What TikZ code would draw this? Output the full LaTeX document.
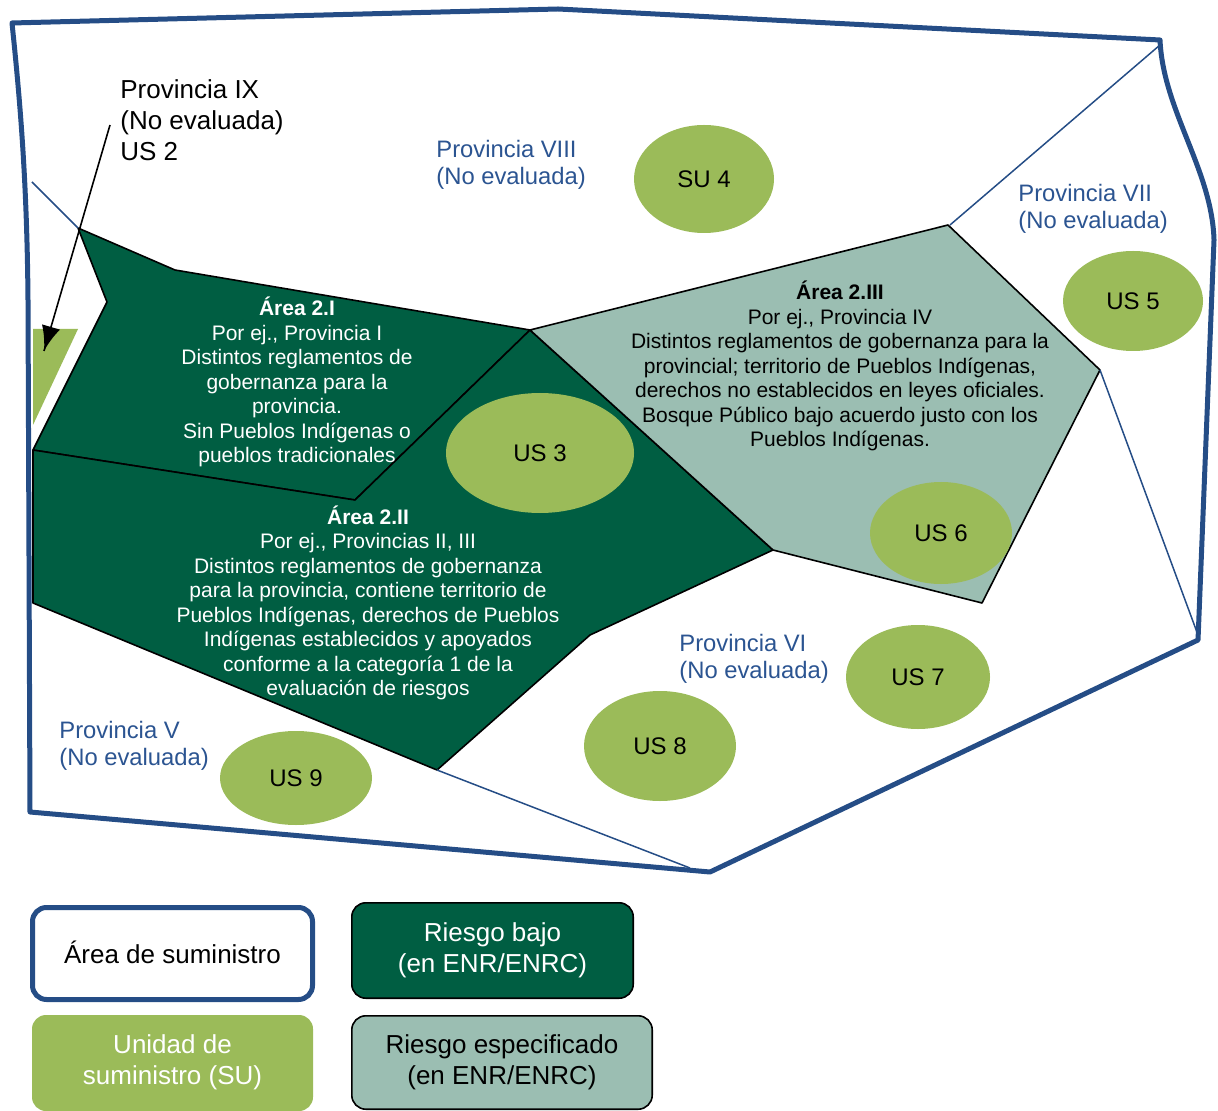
\documentclass[tikz,border=0pt]{standalone}
\usepackage{fontspec}
\setmainfont{Liberation Sans}
\usepackage{tikz}
\usetikzlibrary{shapes,arrows}
\usetikzlibrary{arrows,decorations.markings}
\definecolor{bosque}{RGB}{0,94,66}
\definecolor{verdeus}{RGB}{155,187,89}
\definecolor{gris}{RGB}{155,190,178}
\definecolor{azul}{RGB}{37,77,134}
\definecolor{azultxt}{RGB}{43,84,145}
\tikzstyle{pointer} = [decoration={markings,mark=at position 1 with
	{\arrow[scale=2.4,>=latex]{>}}},postaction={decorate}]
\tikzstyle{unidad} = [ellipse, fill=verdeus, inner sep=0pt, font=\fontsize{12}{14}\selectfont]
\tikzstyle{prov} = [anchor=west, align=left, inner sep=0pt, text=azultxt, font=\fontsize{11.9}{13.5}\selectfont]
\tikzstyle{areatxt} = [align=center, inner sep=0pt, font=\fontsize{10.5}{12.25}\selectfont]
\tikzstyle{leyenda} = [rounded corners=7pt, align=center, inner sep=0pt, font=\fontsize{13}{15.5}\selectfont]
\tikzstyle{limite} = [azul, line width=0.75pt]
\tikzstyle{zona} = [draw=black, line width=0.8pt, line join=round]

\begin{document}
\begin{tikzpicture}[x=0.5pt, y=-0.5pt]
				\useasboundingbox (0,0) rectangle (1218,1111);
				
				\filldraw [zona, fill=bosque] (78,228) -- (175,270) -- (530,330) -- (355,500) -- (33,450) -- (107,302) -- cycle;
				\filldraw [zona, fill=bosque] (33,450) -- (355,500) -- (530,330) -- (773,550) -- (590,635) -- (437,770) -- (33,603) -- cycle;
				\filldraw [zona, fill=gris] (530,330) -- (948,225) -- (1100,370) -- (982,603) -- (773,550) -- cycle;
				\fill [verdeus] (33,329) -- (78,329) -- (33,425) -- cycle;
				
				\draw [limite] (32,182) -- (78,228);
				\draw [limite] (1160,45) -- (950,225);
				\draw [limite] (1100,370) -- (1198,635);
				\draw [limite] (437,770) -- (690,868);
				
				\draw [azul, line width=2.5pt, line join=round] (28,300) .. controls (27,180) and (20,100) .. (12,23) -- (558,9) -- (1160,40)
					.. controls (1163,110) and (1212,170) .. (1214,240) -- (1198,640) -- (710,872) -- (30,812) -- cycle;
				
				\node [unidad, minimum width=70pt, minimum height=54pt] (SU4) at (704,179) {SU 4};
				\node [unidad, minimum width=70pt, minimum height=50pt] (US5) at (1133,301) {US 5};
				\node [unidad, minimum width=94pt, minimum height=60pt] (US3) at (540,453) {US 3};
				\node [unidad, minimum width=71pt, minimum height=51pt] (US6) at (941,533) {US 6};
				\node [unidad, minimum width=72pt, minimum height=52pt] (US7) at (918,677) {US 7};
				\node [unidad, minimum width=76pt, minimum height=55pt] (US8) at (660,746) {US 8};
				\node [unidad, minimum width=76pt, minimum height=47pt] (US9) at (296,778) {US 9};
				
				\node [prov, text=black, font=\fontsize{13}{15.5}\selectfont] (PIX) at (120,120) {Provincia IX\\(No evaluada)\\US 2};
				\node [prov] (PVIII) at (436,165) {Provincia VIII\\(No evaluada)};
				\node [prov] (PVII)  at (1018,209) {Provincia VII\\(No evaluada)};
				\node [prov] (PVI)   at (679,659) {Provincia VI\\(No evaluada)};
				\node [prov] (PV)    at (59,746) {Provincia V\\(No evaluada)};
				\coordinate (PIXpie) at (110,125);
				\coordinate (US2) at (44,351);
				\draw [pointer, line width=0.8pt] (PIXpie) -- (US2);
				
				\node [areatxt, text=white] (A2I) at (297,382) {\textbf{Área 2.I}\\Por ej., Provincia I\\Distintos reglamentos de\\gobernanza para la\\provincia.\\Sin Pueblos Indígenas o\\pueblos tradicionales};
				\node [areatxt, text=white] (A2II) at (368,603) {\textbf{Área 2.II}\\Por ej., Provincias II, III\\Distintos reglamentos de gobernanza\\para la provincia, contiene territorio de\\Pueblos Indígenas, derechos de Pueblos\\Indígenas establecidos y apoyados\\conforme a la categoría 1 de la\\evaluación de riesgos};
				\node [areatxt] (A2III) at (840,366) {\textbf{Área 2.III}\\Por ej., Provincia IV\\Distintos reglamentos de gobernanza para la\\provincial; territorio de Pueblos Indígenas,\\derechos no establecidos en leyes oficiales.\\Bosque Público bajo acuerdo justo con los\\Pueblos Indígenas.};
				
				\node [leyenda, draw=azul, line width=2.5pt, fill=white, minimum width=140pt, minimum height=46pt] (Larea) at (172.5,953.5) {\raisebox{1pt}{Área de suministro}};
				\node [leyenda, draw=black, line width=0.8pt, fill=bosque, text=white, minimum width=140.7pt, minimum height=47.7pt] (Lbajo) at (492.5,950.5) {\raisebox{-1.5pt}{\begin{tabular}{@{}c@{}}Riesgo bajo\\(en ENR/ENRC)\end{tabular}}};
				\node [leyenda, fill=verdeus, text=white, minimum width=140.5pt, minimum height=48pt] (Lunidad) at (172.5,1063) {\raisebox{-1.5pt}{\begin{tabular}{@{}c@{}}Unidad de\\suministro (SU)\end{tabular}}};
				\node [leyenda, draw=black, line width=0.8pt, fill=gris, minimum width=150.2pt, minimum height=46.7pt] (Lespec) at (502,1062.5) {Riesgo especificado\\(en ENR/ENRC)};
				
				\end{tikzpicture}
\end{document}
